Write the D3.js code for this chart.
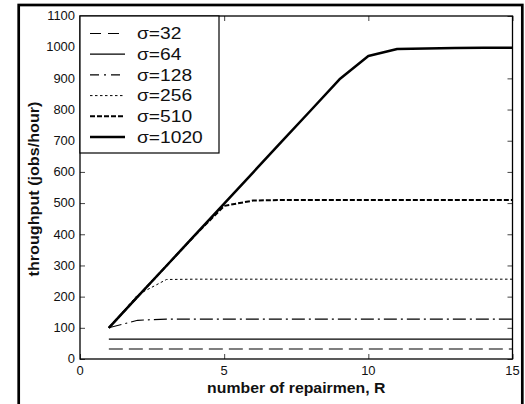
<!DOCTYPE html>
<html>
<head>
<meta charset="utf-8">
<script src="https://cdn.jsdelivr.net/npm/d3@7"></script>
<style>
  html, body { margin: 0; padding: 0; background: #fff; }
  svg { display: block; }
  text { font-family: "Liberation Sans", Arial, sans-serif; }
</style>
</head>
<body>
<svg id="chart" width="525" height="404"></svg>
<script>
// Number of repairmen R
const repairmen = [1, 2, 3, 4, 5, 6, 7, 8, 9, 10, 11, 12, 13, 14, 15];

// Throughput (jobs/hour) for each sigma
const sigma32   = [32, 32, 32, 32, 32, 32, 32, 32, 32, 32, 32, 32, 32, 32, 32];
const sigma64   = [64, 64, 64, 64, 64, 64, 64, 64, 64, 64, 64, 64, 64, 64, 64];
const sigma128  = [100, 124, 128, 128, 128, 128, 128, 128, 128, 128, 128, 128, 128, 128, 128];
const sigma256  = [100, 206, 255, 256, 256, 256, 256, 256, 256, 256, 256, 256, 256, 256, 256];
const sigma510  = [100, 200, 299, 398, 491, 508, 510, 510, 510, 510, 510, 510, 510, 510, 510];
const sigma1020 = [100, 200, 299, 399, 498, 598, 698, 797, 897, 972, 994, 996, 997, 998, 998];

const seriesLabels = ["σ=32", "σ=64", "σ=128", "σ=256", "σ=510", "σ=1020"];
const xTicks = [0, 5, 10, 15];
const yTicks = [0, 100, 200, 300, 400, 500, 600, 700, 800, 900, 1000, 1100];

const series = [
  { label: seriesLabels[0], values: sigma32,   width: 1.2, dash: "14,6",     legendDash: "11,7" },
  { label: seriesLabels[1], values: sigma64,   width: 1.2, dash: null,       legendDash: null },
  { label: seriesLabels[2], values: sigma128,  width: 1.1, dash: "13,4,2,4", legendDash: "9,5,2,5" },
  { label: seriesLabels[3], values: sigma256,  width: 1.0, dash: "2.5,2.5",  legendDash: "2.5,2.5" },
  { label: seriesLabels[4], values: sigma510,  width: 2.0, dash: "5,2",      legendDash: "5,2" },
  { label: seriesLabels[5], values: sigma1020, width: 2.5, dash: null,       legendDash: null }
];

const svg = d3.select("#chart");
const plot = { left: 80, right: 512.5, top: 16, bottom: 359 };

const x = d3.scaleLinear().domain([0, 15]).range([plot.left, plot.right]);
const y = d3.scaleLinear().domain([0, 1100]).range([plot.bottom, plot.top]);

// outer frame
svg.append("rect")
  .attr("x", 18.7).attr("y", 5).attr("width", 503.6).attr("height", 430)
  .attr("fill", "none").attr("stroke", "#000").attr("stroke-width", 2.7);

// text with slight horizontal stretch
function stretchedText(g, tx, ty, str, size, sx, anchor, weight) {
  return g.append("text")
    .attr("transform", `translate(${tx},${ty}) scale(${sx},1)`)
    .attr("text-anchor", anchor)
    .attr("font-size", size)
    .attr("font-weight", weight || "normal")
    .attr("fill", "#111")
    .text(str);
}

// axes with inward ticks, labels drawn separately
const tickLen = 5;
const axLeft = d3.axisLeft(y).tickValues(yTicks).tickSize(-tickLen).tickFormat("");
const axRight = d3.axisRight(y).tickValues(yTicks).tickSize(-tickLen).tickFormat("");
const axBottom = d3.axisBottom(x).tickValues(xTicks).tickSize(-tickLen).tickFormat("");
const axTop = d3.axisTop(x).tickValues(xTicks).tickSize(-tickLen).tickFormat("");

function styleAxis(g) {
  g.select(".domain").remove();
  g.selectAll(".tick line").attr("stroke", "#444").attr("stroke-width", 1);
}
svg.append("g").attr("transform", `translate(${plot.left},0)`).call(axLeft).call(styleAxis);
svg.append("g").attr("transform", `translate(${plot.right},0)`).call(axRight).call(styleAxis);
svg.append("g").attr("transform", `translate(0,${plot.bottom})`).call(axBottom).call(styleAxis);
svg.append("g").attr("transform", `translate(0,${plot.top})`).call(axTop).call(styleAxis);

// tick labels
const labels = svg.append("g");
yTicks.forEach(v => {
  stretchedText(labels, plot.left - 5, y(v) + 4.3, String(v), 12, 1.08, "end");
});
xTicks.forEach(v => {
  stretchedText(labels, x(v), plot.bottom + 15.5, String(v), 12, 1.08, "middle");
});

// series lines
const line = d3.line()
  .x((d, i) => x(repairmen[i]))
  .y(d => y(d));

const lines = svg.append("g");
series.forEach(s => {
  lines.append("path")
    .datum(s.values)
    .attr("d", line)
    .attr("fill", "none")
    .attr("stroke", "#000")
    .attr("stroke-width", s.width)
    .attr("stroke-linejoin", "round")
    .attr("stroke-dasharray", s.dash);
});

// plot box
svg.append("rect")
  .attr("x", plot.left).attr("y", plot.top)
  .attr("width", plot.right - plot.left).attr("height", plot.bottom - plot.top)
  .attr("fill", "none").attr("stroke", "#000").attr("stroke-width", 1.3);

// legend
const legend = svg.append("g");
legend.append("rect")
  .attr("x", plot.left).attr("y", plot.top)
  .attr("width", 139).attr("height", 137)
  .attr("fill", "#fff").attr("stroke", "#000").attr("stroke-width", 1.2);

series.forEach((s, i) => {
  const ly = 33.5 + i * 20.7;
  legend.append("line")
    .attr("x1", 90).attr("x2", 125)
    .attr("y1", ly).attr("y2", ly)
    .attr("stroke", "#000")
    .attr("stroke-width", s.width)
    .attr("stroke-dasharray", s.legendDash);
  stretchedText(legend, 137, ly + 5.8, s.label, 16, 1.2, "start");
});

// axis titles
stretchedText(svg, (plot.left + plot.right) / 2, 393, "number of repairmen, R", 14, 1.13, "middle", "bold");
svg.append("text")
  .attr("transform", `translate(38.5,${(plot.top + plot.bottom) / 2 + 1.5}) rotate(-90) scale(1.13,1)`)
  .attr("text-anchor", "middle")
  .attr("font-size", 14.3)
  .attr("font-weight", "bold")
  .attr("fill", "#111")
  .text("throughput (jobs/hour)");
</script>
</body>
</html>
